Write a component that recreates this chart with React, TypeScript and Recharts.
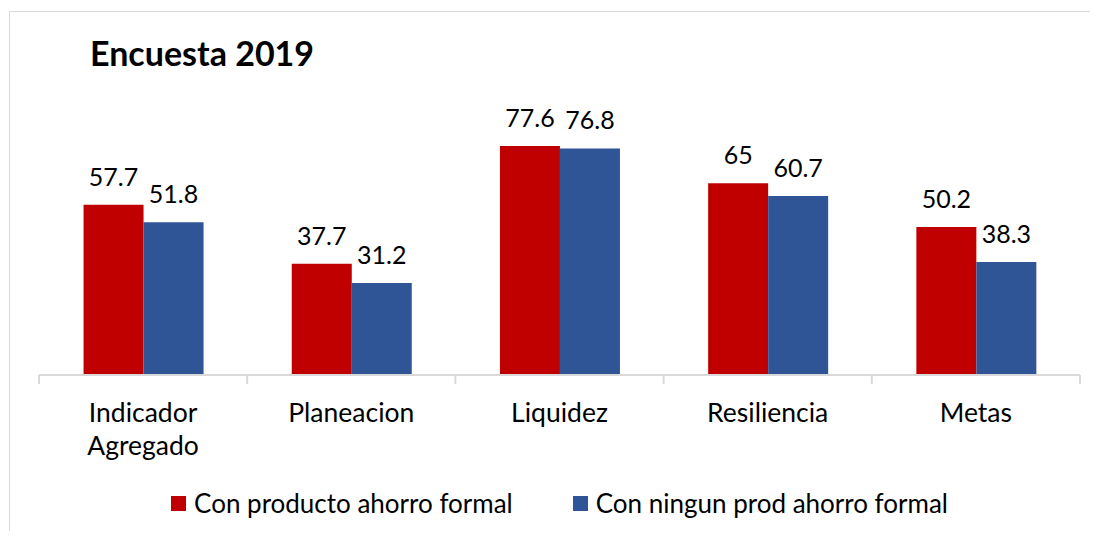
import React from "react";
import { BarChart, Bar, XAxis, YAxis, Legend, LabelList } from "recharts";

const categories = ["Indicador\nAgregado", "Planeacion", "Liquidez", "Resiliencia", "Metas"];
const conProducto = [57.7, 37.7, 77.6, 65, 50.2];
const sinProducto = [51.8, 31.2, 76.8, 60.7, 38.3];
const seriesNames = ["Con producto ahorro formal", "Con ningun prod ahorro formal"];
const title = "Encuesta 2019";

const RED = "#C00000";
const BLUE = "#2F5597";
const AXIS = "#d9d9d9";
const FONT = "Lato, 'Open Sans', sans-serif";

const data = categories.map((c, i) => ({ cat: c, a: conProducto[i], b: sinProducto[i] }));

const W = 1088;
const H = 519;
const MARGIN = { top: 68, right: 18, bottom: 8, left: 29 };
const PLOT_W = W - MARGIN.left - MARGIN.right;

const CategoryTick = (props: any) => {
  const { x, y, payload, index } = props;
  const half = payload && typeof payload.offset === "number" && payload.offset > 0 ? payload.offset : PLOT_W / categories.length / 2;
  const lines = String(payload.value).split("\n");
  return (
    <g>
      <line x1={x - half} x2={x - half} y1={y} y2={y + 9} stroke={AXIS} strokeWidth={2} />
      {index === categories.length - 1 && (
        <line x1={x + half} x2={x + half} y1={y} y2={y + 9} stroke={AXIS} strokeWidth={2} />
      )}
      <text x={x} y={y + 47} textAnchor="middle" fontSize={26.5} fontFamily={FONT} fill="#000">
        {lines.map((l, i) => (
          <tspan key={i} x={x} dy={i === 0 ? 0 : 33}>
            {l}
          </tspan>
        ))}
      </text>
    </g>
  );
};

const LegendContent = () => (
  <div
    style={{
      display: "flex",
      justifyContent: "center",
      alignItems: "center",
      height: 40,
      fontFamily: FONT,
      fontSize: 26,
      color: "#000",
    }}
  >
    {seriesNames.map((n, i) => (
      <div key={n} style={{ display: "flex", alignItems: "center", marginLeft: i === 0 ? 0 : 60 }}>
        <div style={{ width: 15, height: 15, background: i === 0 ? RED : BLUE, marginRight: 8 }} />
        <span>{n}</span>
      </div>
    ))}
  </div>
);

export default function App() {
  return (
    <div style={{ paddingTop: 3, paddingLeft: 1 }}>
      <div
        style={{
          position: "relative",
          width: 1089,
          height: 520,
          boxSizing: "border-box",
          borderLeft: `1px solid ${AXIS}`,
          borderTop: `1px solid ${AXIS}`,
          background: "#fff",
        }}
      >
        <div
          style={{
            position: "absolute",
            left: 80,
            top: 24,
            fontFamily: FONT,
            fontWeight: 700,
            fontSize: 34,
            lineHeight: 1,
            color: "#000",
            whiteSpace: "nowrap",
          }}
        >
          {title}
        </div>
        <BarChart width={W} height={H} data={data} margin={MARGIN} barCategoryGap="21.4%" barGap={0}>
          <XAxis
            dataKey="cat"
            axisLine={{ stroke: AXIS, strokeWidth: 2 }}
            tickLine={false}
            tickSize={0}
            tickMargin={0}
            height={108}
            interval={0}
            tick={<CategoryTick />}
          />
          <YAxis hide domain={[0, 100]} />
          <Legend
            verticalAlign="bottom"
            height={40}
            wrapperStyle={{ left: MARGIN.left, width: PLOT_W }}
            content={<LegendContent />}
          />
          <Bar dataKey="a" name={seriesNames[0]} fill={RED} isAnimationActive={false}>
            <LabelList dataKey="a" position="top" offset={19} fontSize={25} fontFamily={FONT} fill="#000" />
          </Bar>
          <Bar dataKey="b" name={seriesNames[1]} fill={BLUE} isAnimationActive={false}>
            <LabelList dataKey="b" position="top" offset={19} fontSize={25} fontFamily={FONT} fill="#000" />
          </Bar>
        </BarChart>
      </div>
    </div>
  );
}
